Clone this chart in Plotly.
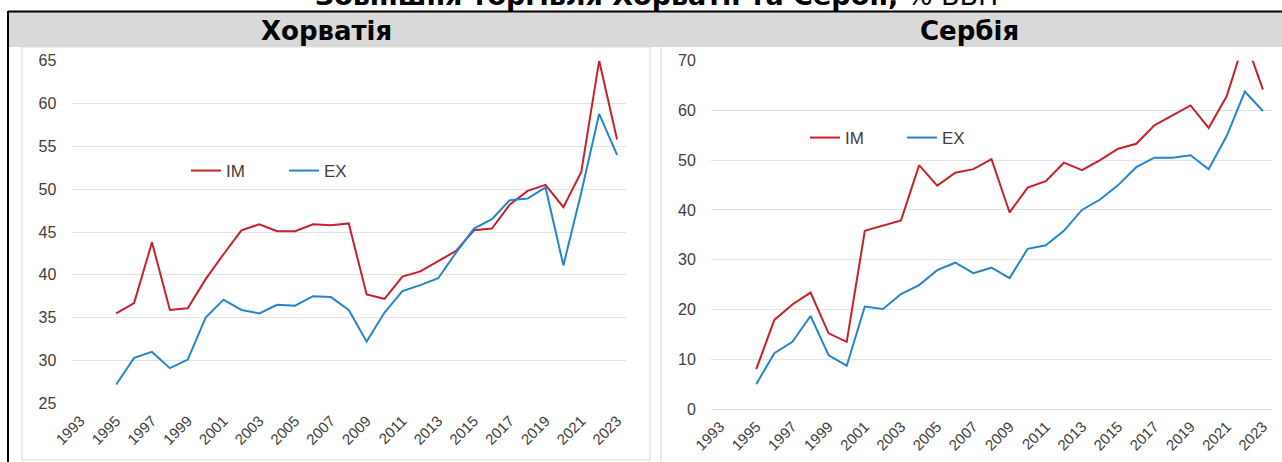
import plotly.graph_objects as go

W, H = 1282, 462

all_years = [str(y) for y in range(1993, 2024)]
tick_years = [str(y) for y in range(1993, 2024, 2)]
years = [str(y) for y in range(1995, 2024)]

hr_im = [35.5, 36.7, 43.8, 35.9, 36.1, 39.5, 42.4, 45.2, 45.9, 45.1, 45.1, 45.9, 45.8, 46.0,
         37.7, 37.2, 39.8, 40.4, 41.6, 42.8, 45.2, 45.4, 48.2, 49.8, 50.5, 47.9, 52.0, 65.0, 55.8]
hr_ex = [27.2, 30.3, 31.0, 29.1, 30.1, 35.0, 37.1, 35.9, 35.5, 36.5, 36.4, 37.5, 37.4, 35.9,
         32.2, 35.6, 38.1, 38.8, 39.6, 42.6, 45.4, 46.5, 48.7, 48.9, 50.2, 41.1, 49.6, 58.8, 54.0]
rs_im = [8.0, 17.9, 21.0, 23.4, 15.2, 13.5, 35.8, 36.8, 37.9, 49.0, 44.9, 47.5, 48.2, 50.2,
         39.5, 44.5, 45.8, 49.5, 48.0, 50.0, 52.3, 53.3, 57.0, 59.0, 61.0, 56.5, 62.9, 74.4, 64.2]
rs_ex = [5.0, 11.2, 13.5, 18.7, 10.8, 8.7, 20.6, 20.1, 23.1, 24.9, 27.9, 29.4, 27.3, 28.4,
         26.3, 32.2, 32.9, 35.8, 40.0, 42.1, 45.0, 48.6, 50.5, 50.5, 51.0, 48.2, 54.9, 63.8, 59.9]

RED = "#C8202A"
BLUE = "#2485CB"
TXT = "#404040"
GRID = "#E3E3E3"
FONT = "Liberation Sans, Arial, sans-serif"
HFONT = "DejaVu Sans, Verdana, sans-serif"


def px(x):
    return x / W


def py(y):
    return 1 - y / H


fig = go.Figure()
fig.add_trace(go.Scatter(x=years, y=hr_im, name="IM", mode="lines", line=dict(color=RED, width=2),
                         xaxis="x", yaxis="y", legend="legend"))
fig.add_trace(go.Scatter(x=years, y=hr_ex, name="EX", mode="lines", line=dict(color=BLUE, width=2),
                         xaxis="x", yaxis="y", legend="legend"))
fig.add_trace(go.Scatter(x=years, y=rs_im, name="IM", mode="lines", line=dict(color=RED, width=2),
                         xaxis="x2", yaxis="y2", legend="legend2"))
fig.add_trace(go.Scatter(x=years, y=rs_ex, name="EX", mode="lines", line=dict(color=BLUE, width=2),
                         xaxis="x2", yaxis="y2", legend="legend2"))

xcommon = dict(type="category", categoryorder="array", categoryarray=all_years,
               range=[-0.5, len(all_years) - 0.5], tickmode="array", tickvals=tick_years,
               ticktext=tick_years, tickangle=-45, showgrid=False, showline=False, zeroline=False,
               tickfont=dict(family=FONT, size=15, color=TXT), ticks="outside", ticklen=2,
               tickcolor="rgba(0,0,0,0)", automargin=False, fixedrange=True)
ycommon = dict(showgrid=True, gridcolor=GRID, gridwidth=1, zeroline=True, zerolinecolor=GRID,
               zerolinewidth=1, showline=False, tickfont=dict(family=FONT, size=16, color=TXT),
               ticks="outside", ticklen=11, tickcolor="rgba(0,0,0,0)", automargin=False,
               fixedrange=True)

fig.update_layout(
    width=W, height=H,
    margin=dict(l=0, r=0, t=0, b=0),
    paper_bgcolor="white", plot_bgcolor="white",
    xaxis=dict(domain=[px(71.5), px(626)], anchor="y", **xcommon),
    yaxis=dict(domain=[py(403.3), py(60.7)], anchor="x", range=[25, 65], dtick=5, **ycommon),
    xaxis2=dict(domain=[px(711), px(1272)], anchor="y2", **xcommon),
    yaxis2=dict(domain=[py(409), py(60.7)], anchor="x2", range=[0, 70], dtick=10, **ycommon),
    legend=dict(orientation="h", x=px(186), y=py(171), xanchor="left", yanchor="middle",
                font=dict(family=FONT, size=17, color=TXT), bgcolor="rgba(0,0,0,0)",
                entrywidthmode="pixels", entrywidth=53, tracegroupgap=0),
    legend2=dict(orientation="h", x=px(805), y=py(138), xanchor="left", yanchor="middle",
                 font=dict(family=FONT, size=17, color=TXT), bgcolor="rgba(0,0,0,0)",
                 entrywidthmode="pixels", entrywidth=52, tracegroupgap=0),
    shapes=[
        dict(type="rect", xref="paper", yref="paper", x0=px(9), x1=1, y0=py(47), y1=py(12),
             fillcolor="#D9D9D9", line=dict(width=0), layer="below"),
        dict(type="line", xref="paper", yref="paper", x0=px(8), x1=1, y0=py(11.5), y1=py(11.5),
             line=dict(color="black", width=2)),
        dict(type="line", xref="paper", yref="paper", x0=px(8), x1=px(8), y0=py(11), y1=0,
             line=dict(color="black", width=2)),
        dict(type="rect", xref="paper", yref="paper", x0=px(22), x1=px(650), y0=py(460), y1=py(47),
             line=dict(color="#D9D9D9", width=1), fillcolor="rgba(0,0,0,0)", layer="below"),
        dict(type="line", xref="paper", yref="paper", x0=px(661), x1=px(661), y0=0, y1=py(47),
             line=dict(color="#D9D9D9", width=1)),
    ],
    annotations=[
        dict(text="<b>Зовнішня торгівля Хорватії та Сербії,</b> % ВВП", xref="paper", yref="paper",
             x=px(657), y=py(13), xanchor="center", yanchor="bottom", showarrow=False,
             font=dict(family=HFONT, size=27, color="black")),
        dict(text="<b>Хорватія</b>", xref="paper", yref="paper", x=px(326.5), y=py(31),
             xanchor="center", yanchor="middle", showarrow=False,
             font=dict(family=HFONT, size=26, color="black")),
        dict(text="<b>Сербія</b>", xref="paper", yref="paper", x=px(969), y=py(31),
             xanchor="center", yanchor="middle", showarrow=False,
             font=dict(family=HFONT, size=26, color="black")),
    ],
)

fig.write_html("out.html", config={"displayModeBar": False},
               post_script="document.body.style.margin='0px';")
